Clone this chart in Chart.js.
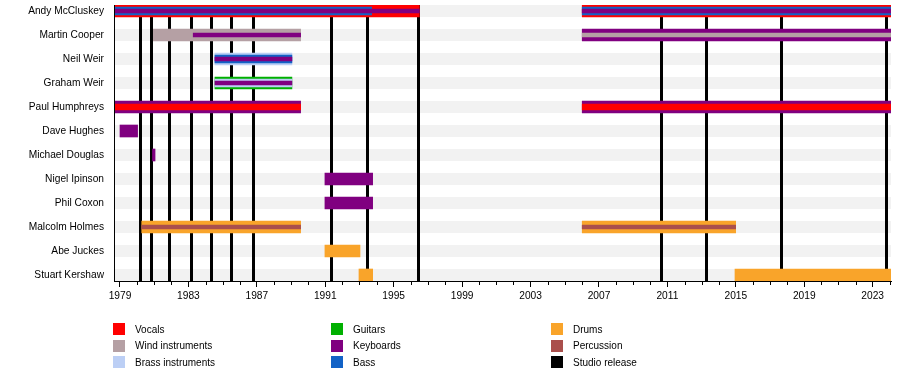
<!DOCTYPE html>
<html>
<head>
<meta charset="utf-8">
<script src="https://cdn.jsdelivr.net/npm/chart.js@4.4.1/dist/chart.umd.min.js"></script>
<style>
  html, body { margin: 0; padding: 0; background: #fff; }
  #wrap { position: relative; width: 900px; height: 370px; }
  #c { position: absolute; left: 0; top: 0; }
  .lg { position: absolute; font: 10px "Liberation Sans", Arial, sans-serif; color: #000; white-space: nowrap; }
  .sw { position: absolute; width: 12px; height: 12px; }
</style>
</head>
<body>
<div id="wrap">
  <canvas id="c" width="900" height="370"></canvas>
</div>
<script>
// ---------- data ----------
const members = ['Andy McCluskey', 'Martin Cooper', 'Neil Weir', 'Graham Weir', 'Paul Humphreys',
  'Dave Hughes', 'Michael Douglas', 'Nigel Ipinson', 'Phil Coxon', 'Malcolm Holmes', 'Abe Juckes', 'Stuart Kershaw'];
const START = 1978.65;
const END = 2024.07;
const yearTicks = [1979, 1983, 1987, 1991, 1995, 1999, 2003, 2007, 2011, 2015, 2019, 2023];
const releases = [1980.17, 1980.85, 1981.88, 1983.17, 1984.34, 1985.5, 1986.79, 1991.35, 1993.48,
  1996.44, 2010.68, 2013.27, 2017.66, 2023.82];
const instruments = ['Vocals', 'Wind instruments', 'Brass instruments', 'Guitars', 'Keyboards', 'Bass',
  'Drums', 'Percussion', 'Studio release'];

// [member, from, till, instrument]
const mainSpans = [
  ['Andy McCluskey', START, 1996.5, 'Vocals'],
  ['Andy McCluskey', 2006.02, END, 'Vocals'],
  ['Martin Cooper', 1980.95, 1989.56, 'Wind instruments'],
  ['Martin Cooper', 2006.02, END, 'Keyboards'],
  ['Neil Weir', 1984.55, 1989.05, 'Brass instruments'],
  ['Graham Weir', 1984.55, 1989.05, 'Guitars'],
  ['Paul Humphreys', START, 1989.56, 'Keyboards'],
  ['Paul Humphreys', 2006.02, END, 'Keyboards'],
  ['Dave Hughes', 1979.0, 1980.03, 'Keyboards'],
  ['Michael Douglas', 1980.9, 1981.05, 'Keyboards'],
  ['Nigel Ipinson', 1990.98, 1993.77, 'Keyboards'],
  ['Phil Coxon', 1990.98, 1993.77, 'Keyboards'],
  ['Malcolm Holmes', 1980.27, 1989.56, 'Drums'],
  ['Malcolm Holmes', 2006.02, 2014.99, 'Drums'],
  ['Abe Juckes', 1990.98, 1993.03, 'Drums'],
  ['Stuart Kershaw', 1992.97, 1993.77, 'Drums'],
  ['Stuart Kershaw', 2014.95, END, 'Drums']
];
const secondSpans = [
  ['Andy McCluskey', START, 1993.71, 'Bass'],
  ['Andy McCluskey', 2006.02, END, 'Bass'],
  ['Neil Weir', 1984.55, 1989.05, 'Bass'],
  ['Graham Weir', 1984.55, 1989.05, 'Brass instruments']
];
const narrowSpans = [
  ['Paul Humphreys', START, 1989.56, 'Vocals'],
  ['Paul Humphreys', 2006.02, END, 'Vocals']
];
const thirdSpans = [
  ['Andy McCluskey', START, 1996.5, 'Keyboards'],
  ['Andy McCluskey', 2006.02, END, 'Keyboards'],
  ['Martin Cooper', 1983.28, 1989.56, 'Keyboards'],
  ['Martin Cooper', 2006.02, END, 'Wind instruments'],
  ['Neil Weir', 1984.55, 1989.05, 'Keyboards'],
  ['Graham Weir', 1984.55, 1989.05, 'Keyboards'],
  ['Malcolm Holmes', 1980.27, 1989.56, 'Percussion'],
  ['Malcolm Holmes', 2006.02, 2014.99, 'Percussion']
];

// ---------- styles ----------
const instrumentColors = {
  'Vocals': '#ff0000',
  'Wind instruments': '#b5a0a4',
  'Brass instruments': '#bccff5',
  'Guitars': '#00b000',
  'Keyboards': '#800080',
  'Bass': '#1262c6',
  'Drums': '#f9a42a',
  'Percussion': '#aa4f4c',
  'Studio release': '#000000'
};
const FONT = { family: '"Liberation Sans", Arial, sans-serif', size: 10.2 };

function toPoints(spans) {
  return spans.map(s => ({ x: [s[1], s[2]], y: members.indexOf(s[0]) }));
}
function toColors(spans) {
  return spans.map(s => instrumentColors[s[3]]);
}
function noPad(s) {
  s.paddingTop = 0; s.paddingBottom = 0; s.paddingLeft = 0; s.paddingRight = 0;
}

const backdropPlugin = {
  id: 'backdrop',
  beforeDatasetsDraw(chart) {
    const { ctx, chartArea, scales } = chart;
    ctx.save();
    ctx.fillStyle = '#f2f2f2';
    members.forEach((m, i) => {
      const y = scales.y.getPixelForValue(i);
      ctx.fillRect(chartArea.left, y - 6, chartArea.right - chartArea.left, 12);
    });
    ctx.fillStyle = instrumentColors['Studio release'];
    releases.forEach(r => {
      const x = scales.x.getPixelForValue(r);
      ctx.fillRect(Math.round(x - 1.5), chartArea.top, 3, chartArea.bottom - chartArea.top);
    });
    ctx.restore();
  },
  afterDraw(chart) {
    const { ctx, chartArea, scales } = chart;
    ctx.save();
    ctx.strokeStyle = '#000';
    ctx.lineWidth = 1;
    ctx.beginPath();
    for (let yr = Math.ceil(START); yr <= END; yr++) {
      if (yearTicks.includes(yr)) continue;
      const x = Math.round(scales.x.getPixelForValue(yr)) + 0.5;
      ctx.moveTo(x, chartArea.bottom);
      ctx.lineTo(x, chartArea.bottom + 4);
    }
    ctx.stroke();
    ctx.restore();
  }
};

new Chart(document.getElementById('c'), {
  type: 'bar',
  data: {
    datasets: [
      { data: toPoints(thirdSpans), backgroundColor: toColors(thirdSpans), barThickness: 4, order: 1 },
      { data: toPoints(narrowSpans), backgroundColor: toColors(narrowSpans), barThickness: 6, order: 2 },
      { data: toPoints(secondSpans), backgroundColor: toColors(secondSpans), barThickness: 8, order: 3 },
      { data: toPoints(mainSpans), backgroundColor: toColors(mainSpans), barThickness: 12, order: 4 }
    ]
  },
  options: {
    indexAxis: 'y',
    responsive: false,
    devicePixelRatio: 1,
    animation: false,
    layout: { padding: { left: 0, right: 9, top: 5, bottom: 0 } },
    datasets: { bar: { grouped: false, borderWidth: 0, borderSkipped: false } },
    plugins: { legend: { display: false }, tooltip: { enabled: false } },
    scales: {
      x: {
        type: 'linear',
        position: 'bottom',
        min: START,
        max: END,
        bounds: 'data',
        offset: false,
        afterBuildTicks: s => { s.ticks = yearTicks.map(v => ({ value: v })); },
        afterFit: s => { s.height = 89; noPad(s); },
        ticks: { callback: v => String(v), autoSkip: false, maxRotation: 0, padding: 3, color: '#000', font: FONT },
        grid: { display: true, offset: false, drawOnChartArea: false, drawTicks: true, tickLength: 6, color: '#000', lineWidth: 1 },
        border: { display: true, color: '#000', width: 1, z: 1 }
      },
      y: {
        type: 'linear',
        reverse: true,
        min: -0.25,
        max: 11.25,
        bounds: 'data',
        offset: false,
        afterBuildTicks: s => { s.ticks = members.map((m, i) => ({ value: i })); },
        afterFit: s => { s.width = 114; noPad(s); },
        ticks: { callback: v => members[v], autoSkip: false, padding: 10, color: '#000', font: FONT },
        grid: { display: false, offset: false, drawTicks: false, tickLength: 0 },
        border: { display: true, color: '#000', width: 1, z: 1 }
      }
    }
  },
  plugins: [backdropPlugin]
});

// ---------- legend (HTML, 3 columns, filled column-wise) ----------
const wrap = document.getElementById('wrap');
const legendCols = [113, 331, 551];
const legendRows = [323, 339.5, 356];
instruments.forEach((name, i) => {
  const col = Math.floor(i / 3), row = i % 3;
  const sw = document.createElement('div');
  sw.className = 'sw';
  sw.style.left = legendCols[col] + 'px';
  sw.style.top = legendRows[row] + 'px';
  sw.style.background = instrumentColors[name];
  wrap.appendChild(sw);
  const t = document.createElement('div');
  t.className = 'lg';
  t.textContent = name;
  t.style.left = (legendCols[col] + 22) + 'px';
  t.style.top = (legendRows[row] + 0.5) + 'px';
  t.style.lineHeight = '12px';
  wrap.appendChild(t);
});
</script>
</body>
</html>
